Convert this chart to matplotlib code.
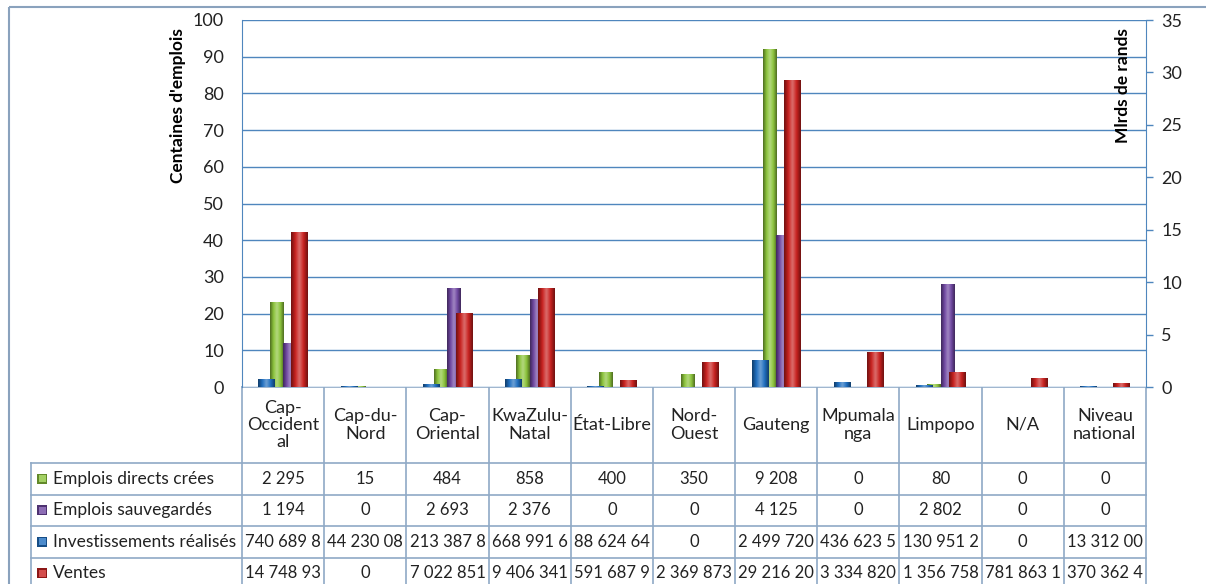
import numpy as np
import matplotlib.pyplot as plt
from matplotlib.colors import LinearSegmentedColormap, to_rgb
from matplotlib.patches import Rectangle

plt.rcParams['font.family'] = ['Lato', 'DejaVu Sans']

# provinces (texte tel qu'il est coupé dans le tableau)
regions = ['Cap-\nOccident\nal', 'Cap-du-\nNord', 'Cap-\nOriental', 'KwaZulu-\nNatal',
           'État-Libre', 'Nord-\nOuest', 'Gauteng', 'Mpumala\nnga', 'Limpopo', 'N/A',
           'Niveau\nnational']

emplois_crees = [2295, 15, 484, 858, 400, 350, 9208, 0, 80, 0, 0]
emplois_sauv = [1194, 0, 2693, 2376, 0, 0, 4125, 0, 2802, 0, 0]
# montants en rands
investissements = [740689800, 44230080, 213387800, 668991600, 88624640, 0,
                   2499720000, 436623500, 130951200, 0, 13312000]
ventes = [14748930000, 0, 7022851000, 9406341000, 591687900, 2369873000,
          29216200000, 3334820000, 1356758000, 781863100, 370362400]

noms = ['Emplois directs crées', 'Emplois sauvegardés', 'Investissements réalisés', 'Ventes']
couleurs = ['#8cc43c', '#7048a2', '#1f6ebf', '#c8211f']

GRID = '#4f86bd'
TABLE = '#8fa9c6'
TXT = '#222222'
W, H = 1206, 584


def cellule(v):
    # la cellule est trop étroite : Excel coupe après 9 caractères
    return f'{v:,}'.replace(',', ' ')[:9]


def degrade(color, k=0.55):
    c = np.array(to_rgb(color))
    dark = c * k
    light = c + (1 - c) * 0.35
    return LinearSegmentedColormap.from_list('', [dark, c, light, c, dark])


def ombrer(axe, bars, color):
    cmap = degrade(color)
    grad = np.linspace(0, 1, 64).reshape(1, -1)
    for b in bars:
        h = b.get_height()
        if h <= 0:
            continue
        x, w = b.get_x(), b.get_width()
        axe.imshow(grad, cmap=cmap, extent=(x, x + w, 0, h), aspect='auto',
                   interpolation='bicubic', zorder=3)


n = len(regions)
idx = np.arange(n)
x0, x1 = 242, 1146
y0, y1 = 20, 387
colw = (x1 - x0) / n

fig = plt.figure(figsize=(W / 100, H / 100), dpi=100)

# calque en pixels pour le cadre et le tableau de données
ov = fig.add_axes([0, 0, 1, 1], zorder=-1)
ov.axis('off')
ov.add_patch(Rectangle((9, 7), W + 50, H + 50, fill=False, ec='#8aa2bd', lw=1.5))

ax = fig.add_axes([x0 / W, 1 - y1 / H, (x1 - x0) / W, (y1 - y0) / H])
ax2 = ax.twinx()

# axe principal : centaines d'emplois
wp = 0.16
b1 = ax.bar(idx - wp / 2, np.array(emplois_crees) / 100, wp, color=couleurs[0], zorder=2)
b2 = ax.bar(idx + wp / 2, np.array(emplois_sauv) / 100, wp, color=couleurs[1], zorder=2)
ombrer(ax, b1, couleurs[0])
ombrer(ax, b2, couleurs[1])

# axe secondaire : milliards de rands
ws = 0.2
b3 = ax2.bar(idx - ws, np.array(investissements) / 1e9, ws, color=couleurs[2], zorder=2)
b4 = ax2.bar(idx + ws, np.array(ventes) / 1e9, ws, color=couleurs[3], zorder=2)
ombrer(ax2, b3, couleurs[2])
ombrer(ax2, b4, couleurs[3])

ax.set_xlim(-0.5, n - 0.5)
ax.set_ylim(0, 100)
ax.set_yticks(np.arange(0, 101, 10))
ax.set_xticks([])
ax.grid(axis='y', color=GRID, lw=1, zorder=0)
ax.set_axisbelow(True)
ax.tick_params(axis='y', length=0, pad=13, labelsize=13, labelcolor=TXT)
ax.set_ylabel("Centaines d'emplois", fontsize=12.5, fontweight='bold', color='black')
ax.yaxis.set_label_coords(-0.062, 0.768)

ax2.set_xlim(-0.5, n - 0.5)
ax2.set_ylim(0, 35)
ax2.set_yticks(np.arange(0, 36, 5))
ax2.tick_params(axis='y', direction='out', length=5, width=1, color=GRID, pad=6,
                labelsize=13, labelcolor=TXT)
ax2.set_ylabel('Mlrds de rands', fontsize=12.5, fontweight='bold', color='black')
ax2.yaxis.set_label_coords(0.966, 0.82)

for a in (ax, ax2):
    for s in a.spines.values():
        s.set_visible(False)
ax.spines['left'].set_visible(True)
ax.spines['left'].set_color(GRID)
ax2.spines['right'].set_visible(True)
ax2.spines['right'].set_color(GRID)

# tableau de données
lignes = [emplois_crees, emplois_sauv, investissements, ventes]
head_bot = 463
rh = 31.5
lab_x = 31
ov.plot([x0, x1], [y1, y1], color=TABLE, lw=1.2)
for k in range(len(lignes) + 1):
    yy = head_bot + k * rh
    ov.plot([lab_x, x1], [yy, yy], color=TABLE, lw=1.2)
ov.plot([lab_x, lab_x], [head_bot, H + 10], color=TABLE, lw=1.2)
for i in range(n + 1):
    xx = x0 + i * colw
    ov.plot([xx, xx], [y1, H + 10], color=TABLE, lw=1.2)

for i, r in enumerate(regions):
    ov.text(x0 + (i + 0.5) * colw, (y1 + head_bot) / 2, r, ha='center', va='center',
            fontsize=13, color=TXT, linespacing=1.1)

for k, (nom, vals, c) in enumerate(zip(noms, lignes, couleurs)):
    yc = head_bot + (k + 0.5) * rh
    rgb = np.array(to_rgb(c))
    # petite clé de légende biseautée
    ov.add_patch(Rectangle((37, yc - 5), 10, 10, fc=rgb * 0.7, ec='none', zorder=2))
    ov.add_patch(Rectangle((38.5, yc - 3.5), 7, 7, fc=rgb + (1 - rgb) * 0.2, ec='none', zorder=3))
    ov.text(53, yc, nom, ha='left', va='center', fontsize=12.5, color=TXT)
    for i, v in enumerate(vals):
        ov.text(x0 + (i + 0.5) * colw, yc, cellule(v), ha='center', va='center',
                fontsize=12, color=TXT)

ov.set_xlim(0, W)
ov.set_ylim(H, 0)

fig.savefig('out.png', dpi=100, facecolor='white')
